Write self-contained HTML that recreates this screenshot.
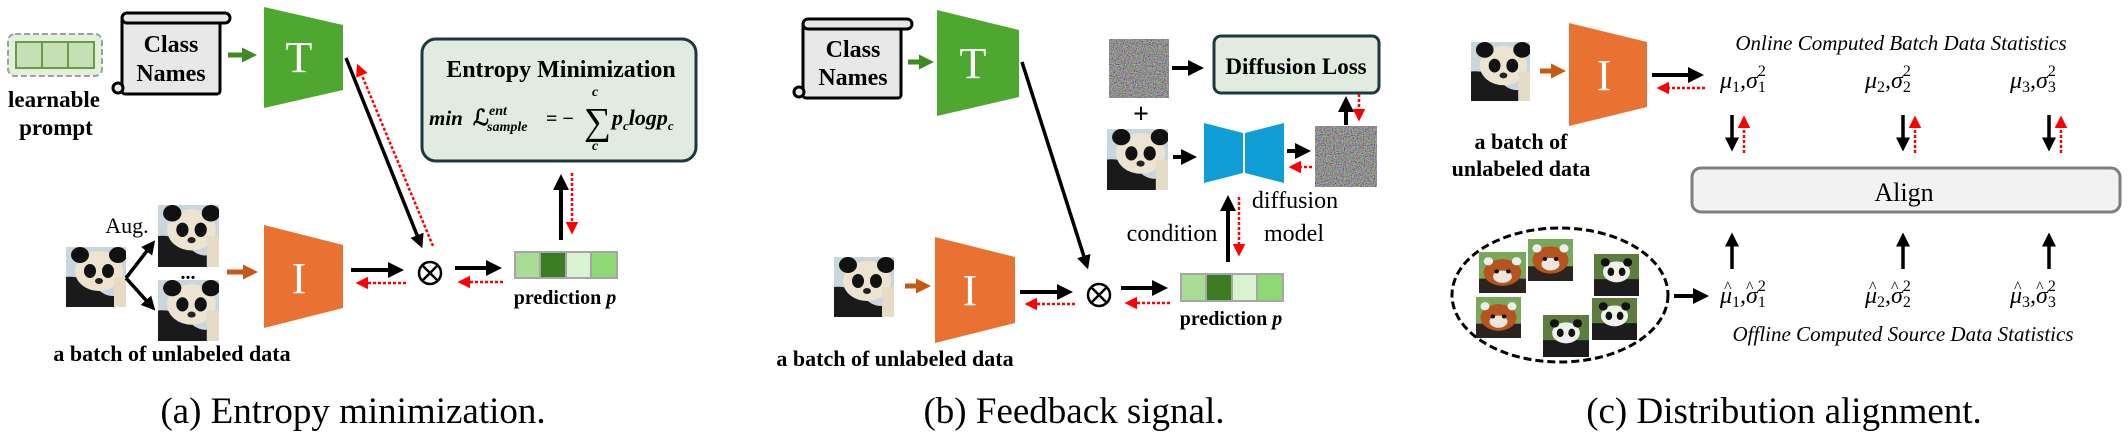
<!DOCTYPE html>
<html><head><meta charset="utf-8"><style>
html,body{margin:0;padding:0;background:#fff;}
svg{display:block;}
text{font-family:"Liberation Serif",serif;}
.b{font-weight:bold;}
</style></head><body>
<svg width="2128" height="436" viewBox="0 0 2128 436" xmlns="http://www.w3.org/2000/svg">
<defs>
<marker id="ak" markerWidth="4" markerHeight="4" refX="3" refY="2" orient="auto" markerUnits="strokeWidth"><path d="M0,0 L4,2 L0,4 z" fill="#000"/></marker>
<marker id="ar" markerWidth="5" markerHeight="5" refX="4" refY="2.5" orient="auto" markerUnits="strokeWidth"><path d="M0,0 L5,2.5 L0,5 z" fill="#f00"/></marker>
<marker id="ag" markerWidth="3" markerHeight="3" refX="2" refY="1.5" orient="auto" markerUnits="strokeWidth"><path d="M0,0 L3,1.5 L0,3 z" fill="#3f8a24"/></marker>
<marker id="ao" markerWidth="3" markerHeight="3" refX="2" refY="1.5" orient="auto" markerUnits="strokeWidth"><path d="M0,0 L3,1.5 L0,3 z" fill="#c55a11"/></marker>
<filter id="nz" x="0" y="0" width="100%" height="100%"><feTurbulence type="fractalNoise" baseFrequency="0.9" numOctaves="2" seed="3"/><feColorMatrix type="matrix" values="1.2 -0.6 0 0 0  0 1.2 -0.6 0 0  -0.6 0 1.2 0 0  0 0 0 0 1"/></filter>
<symbol id="panda" viewBox="0 0 60 60" preserveAspectRatio="none">
<rect width="60" height="60" fill="#c9d6dd"/>
<path d="M0,30 Q20,28 35,45 Q50,55 60,40 L60,60 L0,60z" fill="#1a1a1a"/>
<ellipse cx="33" cy="24" rx="24" ry="20" fill="#ece4d0"/>
<ellipse cx="14" cy="8" rx="9" ry="8" fill="#111"/>
<ellipse cx="52" cy="8" rx="9" ry="8" fill="#111"/>
<ellipse cx="24" cy="24" rx="6" ry="7" fill="#111"/>
<ellipse cx="42" cy="24" rx="6" ry="7" fill="#111"/>
<ellipse cx="33" cy="34" rx="4" ry="3" fill="#222"/>
<rect x="48" y="30" width="12" height="30" fill="#e5dcc6"/>
</symbol>
<symbol id="rp" viewBox="0 0 40 40" preserveAspectRatio="none">
<rect width="40" height="40" fill="#7aa85a"/>
<rect y="26" width="40" height="14" fill="#2a2320"/>
<ellipse cx="20" cy="20" rx="16" ry="13" fill="#b5541f"/>
<ellipse cx="20" cy="24" rx="8" ry="6" fill="#efe6dc"/>
<circle cx="15" cy="19" r="2" fill="#111"/><circle cx="25" cy="19" r="2" fill="#111"/>
<circle cx="8" cy="9" r="4" fill="#eee"/><circle cx="32" cy="9" r="4" fill="#eee"/>
</symbol>
<symbol id="sp" viewBox="0 0 40 40" preserveAspectRatio="none">
<rect width="40" height="40" fill="#5d7d3e"/>
<rect y="24" width="40" height="16" fill="#1c1c1c"/>
<ellipse cx="20" cy="17" rx="12" ry="10" fill="#f1f1ec"/>
<circle cx="10" cy="8" r="4" fill="#111"/><circle cx="30" cy="8" r="4" fill="#111"/>
<ellipse cx="15" cy="17" rx="3" ry="4" fill="#111"/><ellipse cx="25" cy="17" rx="3" ry="4" fill="#111"/>
</symbol>
</defs>

<!-- ===== Panel (a) ===== -->
<rect x="8" y="34" width="94" height="42" rx="7" fill="#e2efda" stroke="#a0a0a0" stroke-width="2" stroke-dasharray="6,3"/>
<rect x="16" y="42" width="26" height="26" fill="#c5e0b4" stroke="#6a9a4a" stroke-width="2"/>
<rect x="42" y="42" width="26" height="26" fill="#c5e0b4" stroke="#6a9a4a" stroke-width="2"/>
<rect x="68" y="42" width="26" height="26" fill="#c5e0b4" stroke="#6a9a4a" stroke-width="2"/>
<text x="54" y="107" font-size="23" text-anchor="middle" class="b">learnable</text>
<text x="56" y="135" font-size="23" text-anchor="middle" class="b">prompt</text>

<g stroke="#000" stroke-width="3" fill="#e8e8e8">
<rect x="122" y="18" width="98" height="76" rx="3"/>
<rect x="122" y="13" width="108" height="10" rx="5"/>
<circle cx="118" cy="88" r="5"/>
</g>
<text x="171" y="52" font-size="24" text-anchor="middle" class="b">Class</text>
<text x="171" y="81" font-size="24" text-anchor="middle" class="b">Names</text>
<line x1="228" y1="55" x2="252" y2="55" stroke="#3f8a24" stroke-width="5" marker-end="url(#ag)"/>
<polygon points="264,7 343,25 343,90 264,108" fill="#4ea72e"/>
<text x="299" y="72" font-size="44" fill="#fff" text-anchor="middle">T</text>

<use href="#panda" x="66" y="247" width="60" height="60"/>
<use href="#panda" x="158" y="205" width="61" height="62"/>
<use href="#panda" x="158" y="280" width="61" height="61"/>
<text x="127" y="233" font-size="22" text-anchor="middle">Aug.</text>
<text x="188" y="279" font-size="20" text-anchor="middle" class="b">...</text>
<line x1="126" y1="278" x2="153" y2="243" stroke="#000" stroke-width="3.5" marker-end="url(#ak)"/>
<line x1="126" y1="278" x2="153" y2="308" stroke="#000" stroke-width="3.5" marker-end="url(#ak)"/>
<line x1="227" y1="272" x2="253" y2="272" stroke="#c55a11" stroke-width="5" marker-end="url(#ao)"/>
<polygon points="264,225 343,245 343,308 264,328" fill="#e97132"/>
<text x="299" y="293" font-size="44" fill="#fff" text-anchor="middle">I</text>
<text x="172" y="361" font-size="22" text-anchor="middle" class="b">a batch of unlabeled data</text>

<line x1="351" y1="270" x2="400" y2="270" stroke="#000" stroke-width="4" marker-end="url(#ak)"/>
<line x1="406" y1="283" x2="358" y2="283" stroke="#f00" stroke-width="2.5" stroke-dasharray="3,2" marker-end="url(#ar)"/>
<circle cx="430" cy="273" r="11" fill="none" stroke="#000" stroke-width="2.5"/>
<line x1="422" y1="265" x2="438" y2="281" stroke="#000" stroke-width="2.5"/>
<line x1="438" y1="265" x2="422" y2="281" stroke="#000" stroke-width="2.5"/>
<line x1="346" y1="58" x2="421" y2="245" stroke="#000" stroke-width="3.5" marker-end="url(#ak)"/>
<line x1="433" y1="246" x2="358" y2="66" stroke="#f00" stroke-width="2.5" stroke-dasharray="3,2" marker-end="url(#ar)"/>
<line x1="455" y1="268" x2="498" y2="268" stroke="#000" stroke-width="4" marker-end="url(#ak)"/>
<line x1="503" y1="282" x2="460" y2="282" stroke="#f00" stroke-width="2.5" stroke-dasharray="3,2" marker-end="url(#ar)"/>
<g stroke="#a6a6a6" stroke-width="2">
<rect x="515" y="252" width="25" height="26" fill="#a9dc95"/>
<rect x="540" y="252" width="26" height="26" fill="#3a7d22"/>
<rect x="566" y="252" width="25" height="26" fill="#d9f2d0"/>
<rect x="591" y="252" width="26" height="26" fill="#8ed973"/>
</g>
<text x="565" y="304" font-size="20" text-anchor="middle" class="b">prediction <tspan font-style="italic">p</tspan></text>
<line x1="561" y1="240" x2="561" y2="178" stroke="#000" stroke-width="4" marker-end="url(#ak)"/>
<line x1="572" y1="173" x2="572" y2="232" stroke="#f00" stroke-width="2.5" stroke-dasharray="3,2" marker-end="url(#ar)"/>

<rect x="422" y="39" width="274" height="122" rx="14" fill="#e2ebe0" stroke="#1b3a40" stroke-width="3"/>
<text x="561" y="77" font-size="24" text-anchor="middle" class="b">Entropy Minimization</text>
<g font-weight="bold" font-style="italic">
<text x="429" y="125" font-size="21">min</text>
<text x="473" y="125" font-size="22" font-family="DejaVu Serif,serif" font-style="normal">ℒ</text>
<text x="489" y="115" font-size="14">ent</text>
<text x="487" y="131" font-size="14">sample</text>
<text x="546" y="125" font-size="20" font-style="normal">= −</text>
<text x="584" y="134" font-size="38" font-style="normal" font-weight="normal" font-family="DejaVu Serif,serif">∑</text>
<text x="592" y="96" font-size="14">c</text>
<text x="592" y="150" font-size="14">c</text>
<text x="612" y="125" font-size="22">p<tspan font-size="13" dy="5">c</tspan><tspan dy="-5">logp</tspan><tspan font-size="13" dy="5">c</tspan></text>
</g>
<text x="353" y="423" font-size="37" text-anchor="middle">(a) Entropy minimization.</text>

<!-- ===== Panel (b) ===== -->
<g stroke="#000" stroke-width="3" fill="#e8e8e8">
<rect x="803" y="24" width="98" height="74" rx="3"/>
<rect x="803" y="19" width="109" height="10" rx="5"/>
<circle cx="799" cy="92" r="5"/>
</g>
<text x="853" y="57" font-size="24" text-anchor="middle" class="b">Class</text>
<text x="853" y="85" font-size="24" text-anchor="middle" class="b">Names</text>
<line x1="908" y1="62" x2="929" y2="62" stroke="#3f8a24" stroke-width="5" marker-end="url(#ag)"/>
<polygon points="937,10 1019,30 1019,97 937,116" fill="#4ea72e"/>
<text x="973" y="78" font-size="44" fill="#fff" text-anchor="middle">T</text>
<line x1="1022" y1="62" x2="1087" y2="266" stroke="#000" stroke-width="3.5" marker-end="url(#ak)"/>

<use href="#panda" x="834" y="257" width="60" height="60"/>
<line x1="905" y1="286" x2="926" y2="286" stroke="#c55a11" stroke-width="5" marker-end="url(#ao)"/>
<polygon points="935,237 1015,257 1015,323 935,343" fill="#e97132"/>
<text x="970" y="305" font-size="44" fill="#fff" text-anchor="middle">I</text>
<text x="895" y="366" font-size="22" text-anchor="middle" class="b">a batch of unlabeled data</text>
<line x1="1020" y1="292" x2="1069" y2="292" stroke="#000" stroke-width="4" marker-end="url(#ak)"/>
<line x1="1075" y1="304" x2="1027" y2="304" stroke="#f00" stroke-width="2.5" stroke-dasharray="3,2" marker-end="url(#ar)"/>
<circle cx="1099" cy="295" r="11" fill="none" stroke="#000" stroke-width="2.5"/>
<line x1="1091" y1="287" x2="1107" y2="303" stroke="#000" stroke-width="2.5"/>
<line x1="1107" y1="287" x2="1091" y2="303" stroke="#000" stroke-width="2.5"/>
<line x1="1121" y1="288" x2="1164" y2="288" stroke="#000" stroke-width="4" marker-end="url(#ak)"/>
<line x1="1170" y1="303" x2="1127" y2="303" stroke="#f00" stroke-width="2.5" stroke-dasharray="3,2" marker-end="url(#ar)"/>
<g stroke="#a6a6a6" stroke-width="2">
<rect x="1181" y="274" width="25" height="27" fill="#a9dc95"/>
<rect x="1206" y="274" width="26" height="27" fill="#3a7d22"/>
<rect x="1232" y="274" width="25" height="27" fill="#d9f2d0"/>
<rect x="1257" y="274" width="26" height="27" fill="#8ed973"/>
</g>
<text x="1231" y="325" font-size="20" text-anchor="middle" class="b">prediction <tspan font-style="italic">p</tspan></text>
<line x1="1228" y1="262" x2="1228" y2="199" stroke="#000" stroke-width="4" marker-end="url(#ak)"/>
<line x1="1239" y1="197" x2="1239" y2="254" stroke="#f00" stroke-width="2.5" stroke-dasharray="3,2" marker-end="url(#ar)"/>
<text x="1172" y="241" font-size="24" text-anchor="middle">condition</text>
<text x="1295" y="208" font-size="24" text-anchor="middle">diffusion</text>
<text x="1294" y="241" font-size="24" text-anchor="middle">model</text>

<rect x="1109" y="39" width="60" height="59" filter="url(#nz)"/>
<text x="1141" y="123" font-size="28" text-anchor="middle" class="b">+</text>
<use href="#panda" x="1107" y="129" width="61" height="61"/>
<line x1="1172" y1="68" x2="1200" y2="68" stroke="#000" stroke-width="4" marker-end="url(#ak)"/>
<rect x="1214" y="36" width="165" height="57" rx="7" fill="#e2ebe0" stroke="#1b3a40" stroke-width="3"/>
<text x="1296" y="74" font-size="23" text-anchor="middle" class="b">Diffusion Loss</text>
<line x1="1173" y1="157" x2="1193" y2="157" stroke="#000" stroke-width="4" marker-end="url(#ak)"/>
<polygon points="1204,123 1243,133 1243,173 1204,183" fill="#0f9ed5"/>
<polygon points="1245,133 1284,123 1284,183 1245,173" fill="#0f9ed5"/>
<line x1="1287" y1="151" x2="1307" y2="151" stroke="#000" stroke-width="4" marker-end="url(#ak)"/>
<line x1="1312" y1="167" x2="1291" y2="167" stroke="#f00" stroke-width="2.5" stroke-dasharray="3,2" marker-end="url(#ar)"/>
<rect x="1315" y="126" width="62" height="61" filter="url(#nz)"/>
<line x1="1346" y1="125" x2="1346" y2="100" stroke="#000" stroke-width="4" marker-end="url(#ak)"/>
<line x1="1359" y1="94" x2="1359" y2="119" stroke="#f00" stroke-width="2.5" stroke-dasharray="3,2" marker-end="url(#ar)"/>
<text x="1074" y="423" font-size="37" text-anchor="middle">(b) Feedback signal.</text>

<!-- ===== Panel (c) ===== -->
<use href="#panda" x="1471" y="42" width="59" height="59"/>
<line x1="1540" y1="71" x2="1561" y2="71" stroke="#c55a11" stroke-width="5" marker-end="url(#ao)"/>
<polygon points="1569,23 1647,42 1647,107 1569,126" fill="#e97132"/>
<text x="1604" y="90" font-size="44" fill="#fff" text-anchor="middle">I</text>
<text x="1521" y="149" font-size="22" text-anchor="middle" class="b">a batch of</text>
<text x="1521" y="176" font-size="22" text-anchor="middle" class="b">unlabeled data</text>
<line x1="1652" y1="75" x2="1700" y2="75" stroke="#000" stroke-width="4" marker-end="url(#ak)"/>
<line x1="1705" y1="88" x2="1659" y2="88" stroke="#f00" stroke-width="2.5" stroke-dasharray="3,2" marker-end="url(#ar)"/>
<text x="1901" y="50" font-size="21" font-style="italic" text-anchor="middle">Online Computed Batch Data Statistics</text>
<g font-size="24" font-style="italic">
<text x="1720" y="88">μ<tspan font-style="normal" font-size="16" dy="4">1</tspan><tspan dy="-4">,σ</tspan><tspan font-style="normal" font-size="16" dy="4">1</tspan><tspan font-style="normal" font-size="16" dx="-8" dy="-16">2</tspan></text>
<text x="1865" y="88">μ<tspan font-style="normal" font-size="16" dy="4">2</tspan><tspan dy="-4">,σ</tspan><tspan font-style="normal" font-size="16" dy="4">2</tspan><tspan font-style="normal" font-size="16" dx="-8" dy="-16">2</tspan></text>
<text x="2010" y="88">μ<tspan font-style="normal" font-size="16" dy="4">3</tspan><tspan dy="-4">,σ</tspan><tspan font-style="normal" font-size="16" dy="4">3</tspan><tspan font-style="normal" font-size="16" dx="-8" dy="-16">2</tspan></text>
<text x="1720" y="303">μ<tspan font-style="normal" font-size="16" dy="4">1</tspan><tspan dy="-4">,σ</tspan><tspan font-style="normal" font-size="16" dy="4">1</tspan><tspan font-style="normal" font-size="16" dx="-8" dy="-16">2</tspan></text>
<text x="1865" y="303">μ<tspan font-style="normal" font-size="16" dy="4">2</tspan><tspan dy="-4">,σ</tspan><tspan font-style="normal" font-size="16" dy="4">2</tspan><tspan font-style="normal" font-size="16" dx="-8" dy="-16">2</tspan></text>
<text x="2010" y="303">μ<tspan font-style="normal" font-size="16" dy="4">3</tspan><tspan dy="-4">,σ</tspan><tspan font-style="normal" font-size="16" dy="4">3</tspan><tspan font-style="normal" font-size="16" dx="-8" dy="-16">2</tspan></text>
</g>
<g font-size="16" font-style="normal">
<text x="1724" y="292">^</text><text x="1746" y="292">^</text>
<text x="1869" y="292">^</text><text x="1891" y="292">^</text>
<text x="2014" y="292">^</text><text x="2036" y="292">^</text>
</g>
<g stroke-width="3.5">
<line x1="1732" y1="115" x2="1732" y2="148" stroke="#000" marker-end="url(#ak)"/>
<line x1="1903" y1="115" x2="1903" y2="148" stroke="#000" marker-end="url(#ak)"/>
<line x1="2049" y1="115" x2="2049" y2="148" stroke="#000" marker-end="url(#ak)"/>
<line x1="1732" y1="269" x2="1732" y2="236" stroke="#000" marker-end="url(#ak)"/>
<line x1="1903" y1="269" x2="1903" y2="236" stroke="#000" marker-end="url(#ak)"/>
<line x1="2049" y1="269" x2="2049" y2="236" stroke="#000" marker-end="url(#ak)"/>
</g>
<g stroke="#f00" stroke-width="2.5" stroke-dasharray="3,2">
<line x1="1744" y1="153" x2="1744" y2="118" marker-end="url(#ar)"/>
<line x1="1915" y1="153" x2="1915" y2="118" marker-end="url(#ar)"/>
<line x1="2061" y1="153" x2="2061" y2="118" marker-end="url(#ar)"/>
</g>
<rect x="1692" y="168" width="428" height="44" rx="9" fill="#f2f2f2" stroke="#7f7f7f" stroke-width="3"/>
<text x="1904" y="201" font-size="26" text-anchor="middle">Align</text>
<ellipse cx="1560" cy="295" rx="108" ry="67" fill="none" stroke="#000" stroke-width="3" stroke-dasharray="8,4"/>
<use href="#rp" x="1479" y="252" width="47" height="41"/>
<use href="#rp" x="1528" y="239" width="45" height="42"/>
<use href="#sp" x="1594" y="254" width="45" height="42"/>
<use href="#rp" x="1476" y="297" width="45" height="41"/>
<use href="#sp" x="1543" y="315" width="46" height="42"/>
<use href="#sp" x="1592" y="298" width="45" height="42"/>
<line x1="1674" y1="296" x2="1705" y2="296" stroke="#000" stroke-width="4" marker-end="url(#ak)"/>
<text x="1903" y="341" font-size="21" font-style="italic" text-anchor="middle">Offline Computed Source Data Statistics</text>
<text x="1784" y="423" font-size="37" text-anchor="middle">(c) Distribution alignment.</text>
</svg>
</body></html>
